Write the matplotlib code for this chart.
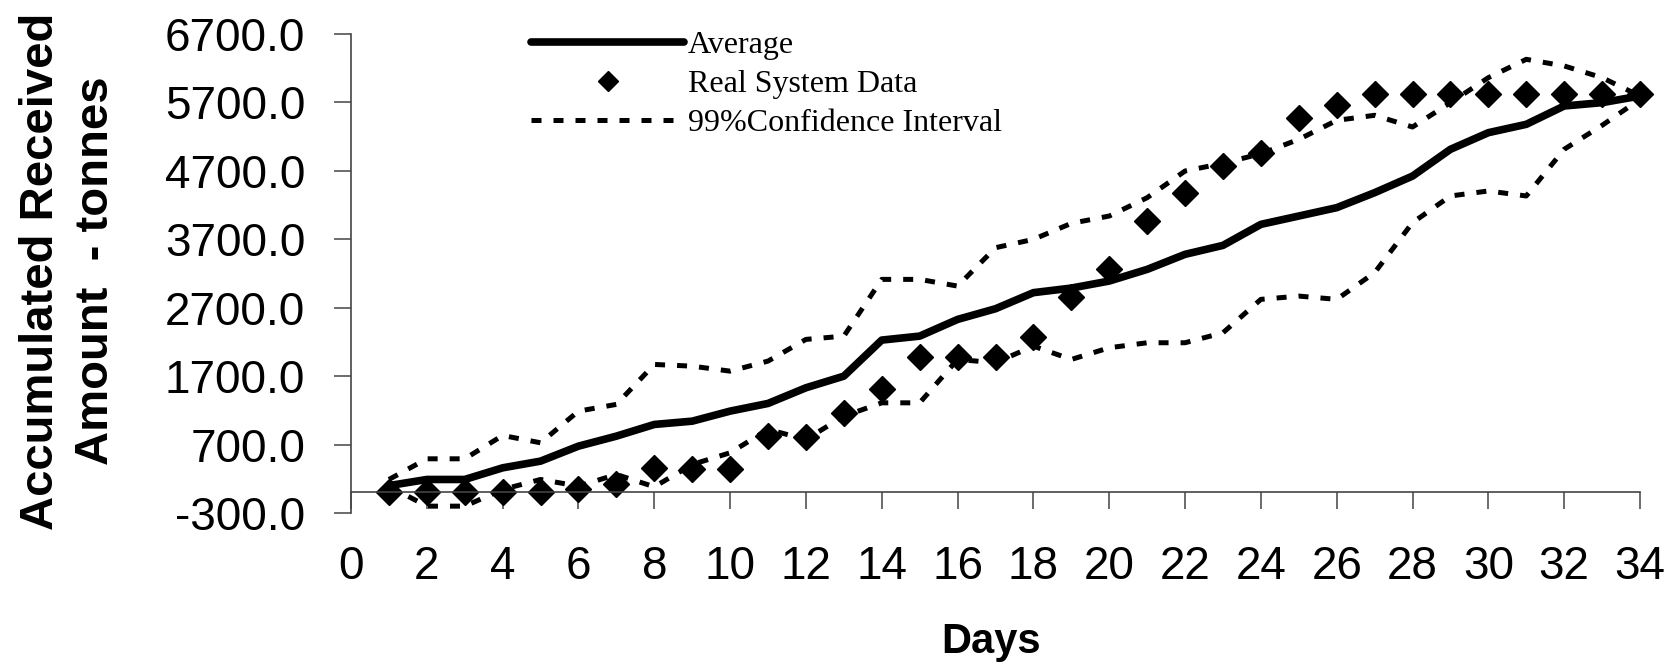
import numpy as np
import matplotlib
matplotlib.use('Agg')
import matplotlib.pyplot as plt
from matplotlib.lines import Line2D

# accumulated received amount (tonnes) per day
days = list(range(1, 35))
average = [100, 190, 190, 360, 458, 677, 823, 994, 1042, 1189, 1301, 1530, 1700,
           2227, 2285, 2529, 2685, 2920, 2987, 3090, 3260, 3480, 3611, 3918, 4040,
           4162, 4381, 4624, 5015, 5258, 5380, 5648, 5697, 5794]
real = [0, 0, 0, 0, 0, 50, 117, 361, 346, 346, 823, 809, 1165, 1516, 1983, 1983,
        1983, 2276, 2855, 3270, 3966, 4371, 4770, 4956, 5478, 5658, 5829, 5829,
        5829, 5829, 5829, 5829, 5829, 5829]
upper = [190, 492, 492, 833, 726, 1189, 1287, 1871, 1846, 1773, 1920, 2237, 2285,
         3114, 3114, 3016, 3577, 3699, 3933, 4040, 4308, 4698, 4810, 4950, 5160,
         5438, 5512, 5341, 5697, 6062, 6330, 6233, 6062, 5794]
lower = [92, -200, -200, 44, 190, 92, 263, 83, 409, 580, 921, 775, 1115, 1310,
         1310, 1944, 1896, 2139, 1944, 2115, 2188, 2188, 2334, 2822, 2870, 2822,
         3212, 3943, 4333, 4406, 4333, 5015, 5365, 5746]

yticks = np.arange(-300, 6701, 1000)
xticks = np.arange(0, 35, 2)

plt.rcParams['font.family'] = ['Liberation Sans', 'DejaVu Sans']

fig = plt.figure(figsize=(16.77, 6.69), dpi=100)
ax = fig.add_axes([351/1677, 1-513/669, 1289/1677, 479/669])

dash = (2, 2.4)
ax.plot(days, upper, color='black', lw=3.6, dashes=dash, clip_on=False)
ax.plot(days, lower, color='black', lw=3.6, dashes=dash, clip_on=False)
ax.plot(days, average, color='black', lw=5.5, solid_capstyle='round', clip_on=False)
ax.plot(days, real, ls='none', marker='D', ms=13.5, color='black', clip_on=False)

for s in ['top', 'right']:
    ax.spines[s].set_visible(False)
ax.spines['bottom'].set_position(('data', 0))
for s in ['left', 'bottom']:
    ax.spines[s].set_color('#444444')
    ax.spines[s].set_linewidth(1.2)

ax.set_xlim(0, 34)
ax.set_ylim(-300, 6700)
ax.set_yticks(yticks)
ax.set_yticklabels(['%.1f' % v for v in yticks])
ax.set_xticks(xticks)
ax.set_xticklabels([str(v) for v in xticks])
ax.tick_params(axis='both', direction='out', length=12, width=1.1, color='#444444',
               labelsize=33)
ax.tick_params(axis='x', pad=26)
ax.tick_params(axis='y', pad=21)

fig.text(68.5/1677, 1-271/669, 'Accumulated Received\nAmount  - tonnes', rotation=90,
         ha='center', va='center', fontsize=34, fontweight='bold', linespacing=1.35)
fig.text(991/1677, 1-642/669, 'Days', ha='center', va='center', fontsize=30,
         fontweight='bold')

handles = [Line2D([], [], color='black', lw=5.5, solid_capstyle='round'),
           Line2D([], [], ls='none', marker='D', ms=10, color='black'),
           Line2D([], [], color='black', lw=3.6, dashes=dash)]
labels = ['Average', 'Real System Data', '99%Confidence Interval']
fig.legend(handles, labels, loc='upper left', bbox_to_anchor=(531/1677, 1-31/669),
           frameon=False, borderpad=0, borderaxespad=0, handlelength=4.8,
           handletextpad=0.1, labelspacing=0.3,
           prop={'family': 'Liberation Serif', 'size': 23})

fig.savefig('out.png', dpi=100)
